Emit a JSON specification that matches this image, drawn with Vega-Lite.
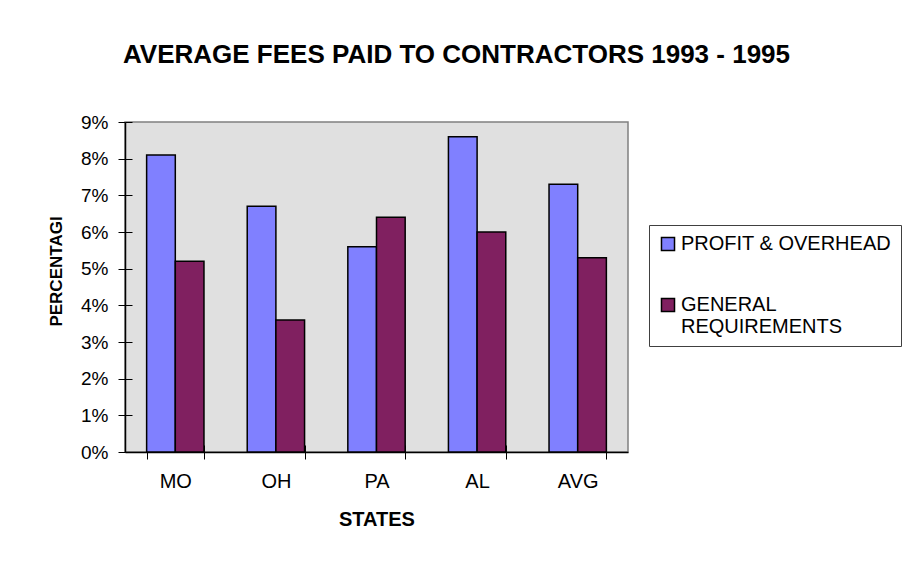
{
  "$schema": "https://vega.github.io/schema/vega-lite/v6.json",
  "width": 503,
  "height": 330,
  "autosize": {"type": "none"},
  "padding": {"left": 125, "top": 122, "right": 281, "bottom": 113},
  "background": "white",
  "title": {
    "text": "AVERAGE FEES PAID TO CONTRACTORS 1993 - 1995",
    "font": "Liberation Sans",
    "fontSize": 26,
    "fontWeight": "bold",
    "color": "black",
    "anchor": "start",
    "frame": "group",
    "dx": -2,
    "offset": 45
  },
  "config": {
    "view": {"fill": "#e0e0e0", "stroke": "#808080", "strokeWidth": 1.5},
    "font": "Liberation Sans"
  },
  "data": {
    "values": [
      {"state": "MO", "series": "PROFIT & OVERHEAD", "value": 0.081},
      {"state": "MO", "series": "GENERAL REQUIREMENTS", "value": 0.052},
      {"state": "OH", "series": "PROFIT & OVERHEAD", "value": 0.067},
      {"state": "OH", "series": "GENERAL REQUIREMENTS", "value": 0.036},
      {"state": "PA", "series": "PROFIT & OVERHEAD", "value": 0.056},
      {"state": "PA", "series": "GENERAL REQUIREMENTS", "value": 0.064},
      {"state": "AL", "series": "PROFIT & OVERHEAD", "value": 0.086},
      {"state": "AL", "series": "GENERAL REQUIREMENTS", "value": 0.060},
      {"state": "AVG", "series": "PROFIT & OVERHEAD", "value": 0.073},
      {"state": "AVG", "series": "GENERAL REQUIREMENTS", "value": 0.053}
    ]
  },
  "encoding": {
    "x": {
      "field": "state",
      "type": "nominal",
      "sort": ["MO", "OH", "PA", "AL", "AVG"],
      "scale": {"paddingInner": 0.43, "paddingOuter": 0.215}
    },
    "xOffset": {
      "field": "series",
      "type": "nominal",
      "sort": ["PROFIT & OVERHEAD", "GENERAL REQUIREMENTS"],
      "scale": {"paddingInner": 0, "paddingOuter": 0}
    },
    "y": {
      "field": "value",
      "type": "quantitative",
      "scale": {"domain": [0, 0.09], "nice": false}
    }
  },
  "layer": [
    {
      "mark": {"type": "bar", "stroke": "black", "strokeWidth": 1.5, "opacity": 1},
      "encoding": {
        "x": {
          "field": "state",
          "type": "nominal",
          "sort": ["MO", "OH", "PA", "AL", "AVG"],
          "axis": {
            "orient": "bottom",
            "title": "STATES",
            "titleFont": "Liberation Sans",
            "titleFontSize": 20,
            "titleFontWeight": "bold",
            "titleColor": "black",
            "titlePadding": 18,
            "labelFont": "Liberation Sans",
            "labelFontSize": 20,
            "labelColor": "black",
            "labelAngle": 0,
            "labelPadding": 12,
            "tickBand": "extent",
            "tickSize": 7,
            "tickColor": "black",
            "tickWidth": 1,
            "domainColor": "black",
            "domainWidth": 1.5
          }
        },
        "y": {
          "field": "value",
          "type": "quantitative",
          "axis": {
            "orient": "left",
            "title": "PERCENTAGI",
            "titleFont": "Liberation Sans",
            "titleFontSize": 17,
            "titleFontWeight": "bold",
            "titleColor": "black",
            "titleAngle": -90,
            "titleAlign": "center",
            "titleBaseline": "alphabetic",
            "titleX": -64,
            "titleY": 149,
            "format": ".0%",
            "values": [0, 0.01, 0.02, 0.03, 0.04, 0.05, 0.06, 0.07, 0.08, 0.09],
            "labelFont": "Liberation Sans",
            "labelFontSize": 19,
            "labelColor": "black",
            "labelPadding": 10,
            "tickSize": 7,
            "tickColor": "black",
            "domainColor": "black",
            "domainWidth": 1.5,
            "grid": false
          }
        },
        "color": {
          "field": "series",
          "type": "nominal",
          "sort": ["PROFIT & OVERHEAD", "GENERAL REQUIREMENTS"],
          "scale": {"domain": ["PROFIT & OVERHEAD", "GENERAL REQUIREMENTS"], "range": ["#8080ff", "#802060"]},
          "legend": {
            "title": null,
            "orient": "none",
            "legendX": 524,
            "legendY": 103,
            "strokeColor": "#404040",
            "fillColor": "white",
            "padding": 9,
            "symbolType": "square",
            "symbolSize": 170,
            "symbolStrokeColor": "black",
            "symbolStrokeWidth": 1.5,
            "symbolOpacity": 1,
            "labelFont": "Liberation Sans",
            "labelFontSize": 20,
            "labelColor": "black",
            "labelOffset": 3,
            "labelLimit": 300,
            "rowPadding": 41,
            "labelExpr": "datum.label == 'GENERAL REQUIREMENTS' ? ['GENERAL', 'REQUIREMENTS'] : datum.label"
          }
        }
      }
    },
    {
      "mark": {"type": "bar", "opacity": 0},
      "encoding": {
        "x": {
          "field": "state",
          "type": "nominal",
          "sort": ["MO", "OH", "PA", "AL", "AVG"],
          "axis": {
            "orient": "bottom",
            "title": null,
            "labels": false,
            "domain": false,
            "tickBand": "extent",
            "tickSize": -7,
            "tickColor": "black",
            "tickWidth": 1
          }
        },
        "y": {
          "field": "value",
          "type": "quantitative",
          "axis": {
            "orient": "left",
            "title": null,
            "labels": false,
            "domain": false,
            "values": [0, 0.01, 0.02, 0.03, 0.04, 0.05, 0.06, 0.07, 0.08, 0.09],
            "tickSize": -7,
            "tickColor": "black",
            "grid": false
          }
        }
      }
    }
  ],
  "resolve": {"axis": {"x": "independent", "y": "independent"}}
}
